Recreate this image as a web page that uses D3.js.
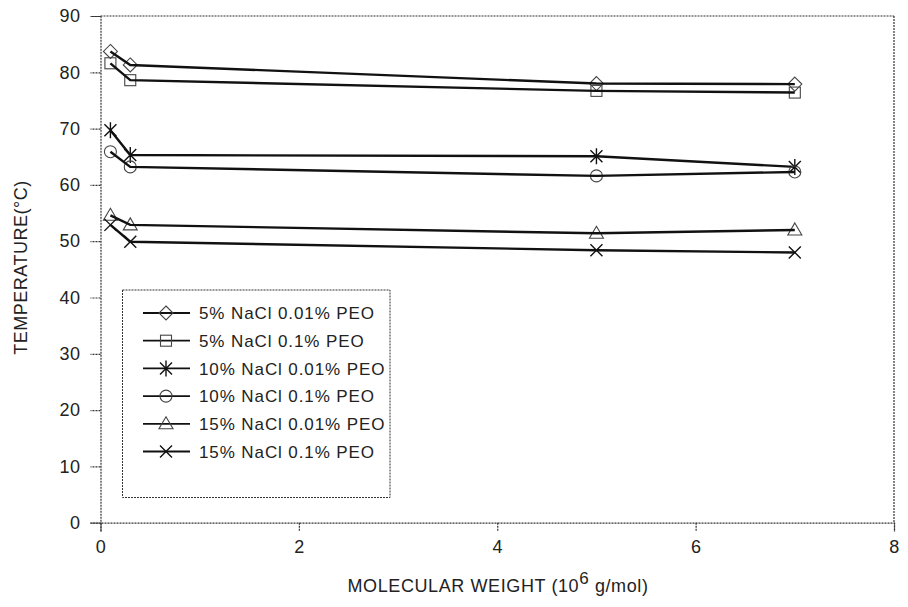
<!DOCTYPE html>
<html>
<head>
<meta charset="utf-8">
<script src="https://cdn.jsdelivr.net/npm/d3@7"></script>
<style>
  body { margin: 0; background: #fff; }
  svg { font-family: "Liberation Sans", Arial, sans-serif; }
</style>
</head>
<body>
<svg id="chart" width="908" height="607"></svg>
<script>
// ---- data ----
const molecularWeights = [0.1, 0.3, 5, 7];
const seriesNames = [
  "5% NaCl 0.01% PEO",
  "5% NaCl 0.1% PEO",
  "10% NaCl 0.01% PEO",
  "10% NaCl 0.1% PEO",
  "15% NaCl 0.01% PEO",
  "15% NaCl 0.1% PEO"
];
const nacl5_peo001  = [83.7, 81.3, 78.0, 77.9];
const nacl5_peo01   = [81.6, 78.6, 76.7, 76.4];
const nacl10_peo001 = [69.7, 65.3, 65.1, 63.2];
const nacl10_peo01  = [65.9, 63.2, 61.6, 62.3];
const nacl15_peo001 = [54.6, 52.9, 51.4, 52.0];
const nacl15_peo01  = [52.9, 49.9, 48.4, 48.0];
const seriesValues = [nacl5_peo001, nacl5_peo01, nacl10_peo001, nacl10_peo01, nacl15_peo001, nacl15_peo01];
const markerTypes = ["diamond", "square", "asterisk", "circle", "triangle", "cross"];
const xTicks = [0, 2, 4, 6, 8];
const yTicks = [0, 10, 20, 30, 40, 50, 60, 70, 80, 90];

// ---- layout ----
const svg = d3.select("#chart");
const L = 100.5, R = 894, T = 16, B = 522.7;
const x = d3.scaleLinear().domain([0, 8]).range([L, R]);
const y = d3.scaleLinear().domain([0, 90]).range([B, T]);
const axisColor = "#333";
const dash = "2,1";

// frame (top & right)
svg.append("line").attr("x1", L).attr("x2", R).attr("y1", T).attr("y2", T)
  .attr("stroke", axisColor).attr("stroke-width", 1.2).attr("stroke-dasharray", dash);
svg.append("line").attr("x1", R).attr("x2", R).attr("y1", T).attr("y2", B)
  .attr("stroke", axisColor).attr("stroke-width", 1.2).attr("stroke-dasharray", dash);

// axes
const xAxis = svg.append("g").attr("transform", `translate(0,${B})`)
  .call(d3.axisBottom(x).tickValues(xTicks).tickSize(9).tickPadding(9).tickFormat(d3.format("d")));
const yAxis = svg.append("g").attr("transform", `translate(${L},0)`)
  .call(d3.axisLeft(y).tickValues(yTicks).tickSize(10).tickPadding(10).tickFormat(d3.format("d")));
[xAxis, yAxis].forEach(g => {
  g.select(".domain").attr("stroke", axisColor).attr("stroke-width", 1.2).attr("stroke-dasharray", dash);
  g.selectAll(".tick line").attr("stroke", axisColor).attr("stroke-width", 1.2).attr("stroke-dasharray", dash);
  g.selectAll(".tick text").attr("font-size", 18).attr("fill", "#222")
    .attr("font-family", "'Liberation Sans', Arial, sans-serif").attr("letter-spacing", 0.5);
});

// axis titles
const xt = svg.append("text").attr("x", (347 + 649) / 2).attr("y", 592)
  .attr("text-anchor", "middle").attr("font-size", 18).attr("fill", "#222").attr("letter-spacing", 0.6);
xt.append("tspan").text("MOLECULAR WEIGHT (10");
xt.append("tspan").attr("font-size", 17).attr("dy", -8).text("6");
xt.append("tspan").attr("dy", 8).text(" g/mol)");

svg.append("text").attr("transform", `translate(27,267.5) rotate(-90)`)
  .attr("text-anchor", "middle").attr("font-size", 18).attr("fill", "#222").attr("letter-spacing", 0.5)
  .text("TEMPERATURE(°C)");

// marker drawing
function drawMarker(g, type, cx, cy) {
  const mk = g.append("g").attr("transform", `translate(${cx},${cy})`);
  const st = (s) => s.attr("fill", "none").attr("stroke", "#444").attr("stroke-width", 1.1);
  if (type === "diamond") {
    st(mk.append("path").attr("d", "M0,-7L7,0L0,7L-7,0Z"));
  } else if (type === "square") {
    st(mk.append("rect").attr("x", -5.5).attr("y", -5.5).attr("width", 11).attr("height", 11));
  } else if (type === "circle") {
    st(mk.append("circle").attr("r", 6));
  } else if (type === "triangle") {
    st(mk.append("path").attr("d", "M0,-7L7,5L-7,5Z"));
  } else if (type === "cross") {
    st(mk.append("path").attr("d", "M-6,-6L6,6M-6,6L6,-6")).attr("stroke", "#111").attr("stroke-width", 1.4);
  } else if (type === "asterisk") {
    st(mk.append("path").attr("d", "M-6,-6L6,6M-6,6L6,-6M0,-8L0,8")).attr("stroke", "#111").attr("stroke-width", 1.4);
  }
}

// series
const line = d3.line().x((d, i) => x(molecularWeights[i])).y(d => y(d));
seriesValues.forEach((vals, si) => {
  const g = svg.append("g");
  vals.forEach((v, i) => drawMarker(g, markerTypes[si], x(molecularWeights[i]), y(v)));
  g.append("path").datum(vals).attr("d", line).attr("fill", "none")
    .attr("stroke", "#111").attr("stroke-width", 2.4);
});

// legend
const lg = svg.append("g");
lg.append("rect").attr("x", 122.5).attr("y", 290).attr("width", 267.5).attr("height", 207.5)
  .attr("fill", "#fff").attr("stroke", "#333").attr("stroke-width", 1).attr("stroke-dasharray", "2,1");
seriesNames.forEach((name, i) => {
  const yy = 313 + i * 27.7;
  lg.append("line").attr("x1", 143).attr("x2", 190).attr("y1", yy).attr("y2", yy)
    .attr("stroke", "#111").attr("stroke-width", 1.8);
  drawMarker(lg, markerTypes[i], 166, yy);
  lg.append("text").attr("x", 199).attr("y", yy).attr("dy", "0.36em")
    .attr("font-size", 17).attr("fill", "#222").attr("letter-spacing", 0.9).text(name);
});
</script>
</body>
</html>
